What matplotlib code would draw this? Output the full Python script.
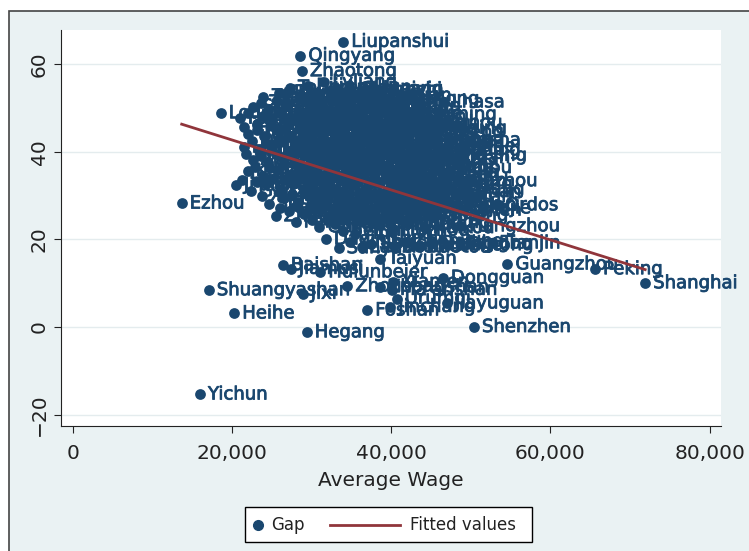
import matplotlib.pyplot as plt
import matplotlib.patheffects as pe
from matplotlib.lines import Line2D
from matplotlib.patches import Rectangle

# city, average wage, gap
city = [
    "Liupanshui", "Qingyang", "Zhaotong", "Lhasa", "Loudi", "Ezhou",
    "Tongren", "Bijie", "Lvliang", "Anshun", "Changzhi", "Lincang",
    "Zhoukou", "Shangluo", "Dazhou", "Bazhong", "Pingliang", "Guyuan", "Wuzhong",
    "Suihua", "Shangqiu", "Zhumadian", "Nanchong", "Guang'an", "Suining", "Qujing",
    "Tangshan", "Baoshan", "Pu'er", "Yulin",
    "Fuxin", "Xinyang", "Fuyang", "Bozhou", "Lu'an", "Guigang", "Yibin", "Ankang",
    "Hanzhong", "Baise", "Laibin", "Hezhou", "Huzhou",
    "Tieling", "Chaoyang", "Siping", "Songyuan", "Baicheng", "Qiqihar", "Ulanqab",
    "Chifeng", "Tongliao", "Xinzhou", "Yancheng", "Linfen", "Yuncheng", "Jinzhong",
    "Huludao", "Jinzhou", "Tonghua", "Liaoyuan", "Qitaihe", "Mudanjiang", "Shuozhou",
    "Datong", "Xingtai", "Handan", "Cangzhou", "Hengshui", "Langfang", "Chengde", "Baoding",
    "Anqing", "Chuzhou", "Huaibei", "Suqian", "Lianyungang", "Huai'an", "Jining", "Heze",
    "Liaocheng", "Dezhou", "Binzhou", "Shaoxing", "Linyi", "Rizhao", "Wuhan",
    "Kaifeng", "Xuchang", "Luohe", "Nanyang", "Pingdingshan", "Anyang", "Hebi", "Xinxiang",
    "Jiaozuo", "Puyang", "Sanmenxia", "Luoyang", "Changzhou", "Wuxi",
    "Ji'an", "Ganzhou", "Shangrao", "Fuzhou", "Yingtan", "Xinyu", "Pingxiang", "Jiujiang",
    "Jingdezhen", "Nanchang", "Huanggang", "Xiaogan", "Jingmen", "Xiangyang", "Yichang", "Jinan",
    "Xianning", "Suizhou", "Huangshi", "Shiyan", "Jingzhou", "Hengyang", "Shaoyang", "Yongzhou",
    "Huaihua", "Yiyang", "Changde", "Yueyang", "Xiangtan", "Weinan", "Ordos",
    "Zhanjiang", "Maoming", "Meizhou", "Shanwei", "Heyuan", "Yangjiang", "Yunfu", "Jieyang",
    "Chaozhou", "Shantou", "Zhaoqing", "Jiangmen",
    "Panzhihua", "Guilin", "Wuzhou", "Beihai", "Yinchuan", "Qinzhou", "Liuzhou", "Nanning",
    "Haikou", "Hangzhou",
    "Daqing", "Sanya", "Xining", "Lanzhou", "Shijiazhuang", "Hohhot", "Zhenjiang", "Baotou",
    "Dalian", "Nantong", "Ningbo", "Tianjin",
    "Bayannur", "Yan'an", "Wuwei", "Baiyin",
    "Zhongwei", "Guangyuan", "Neijiang", "Ziyang", "Meishan", "Leshan", "Ya'an",
    "Luzhou", "Zigong", "Deyang", "Mianyang", "Tongchuan", "Xianyang", "Baoji", "Yuxi",
    "Zhangye", "Jiuquan", "Kunming",
    "Chongzuo", "Fangchenggang", "Qingyuan", "Shaoguan", "Chenzhou", "Zhangjiakou",
    "Qinhuangdao", "Yangquan", "Jincheng", "Wuhai", "Guiyang", "Chongqing", "Xi'an",
    "Dandong", "Fushun", "Benxi", "Yingkou", "Liaoyang", "Panjin", "Anshan", "Jilin",
    "Harbin", "Changchun", "Shenyang", "Zhuzhou", "Changsha",
    "Chizhou", "Xuancheng", "Huangshan", "Tongling", "Huainan", "Bengbu", "Wuhu", "Hefei",
    "Zaozhuang", "Laiwu", "Tai'an", "Weifang", "Zibo", "Dongying",
    "Putian", "Sanming", "Nanping", "Longyan", "Ningde", "Zhangzhou", "Quanzhou", "Lishui",
    "Jinhua", "Quzhou", "Jiaxing", "Taizhou",
    "Huizhou", "Yangzhou", "Wenzhou", "Xuzhou", "Suzhou", "Zhuhai", "Yantai", "Weihai",
    "Qingdao", "Nanjing", "Chengdu", "Shizuishan", "Lijiang",
    "Enshi", "Jishou", "Kaili", "Duyun", "Xingyi", "Dali", "Chuxiong", "Honghe",
    "Wenshan", "Hami", "Korla",
    "Kashgar", "Aksu", "Yili", "Haidong", "Xilinhot", "Shannan", "Nagqu", "Qamdo",
    "Xigaze", "Nyingchi", "Zhangjiajie",
    "Yanbian", "Karamay", "Zunyi", "Wenchang", "Danzhou",
    "Baishan", "Jiamusi", "Hulunbeier", "Taiyuan", "Guangzhou", "Peking", "Shanghai",
    "Shuangyashan", "Jixi", "Zhoushan", "Zhongshan", "Xiamen", "Ma'anshan", "Urumqi",
    "Dongguan", "Jiayuguan", "Foshan", "Jinchang", "Heihe", "Shenzhen", "Hegang", "Yichun",
]
wage = [
    34000, 28600, 28800, 46600, 18600, 13700,
    27300, 29600, 31600, 33100, 34850, 36700,
    23900, 25900, 28400, 30600, 32600, 37800, 39600,
    22700, 24500, 26800, 28300, 30100, 32000, 33800,
    36200, 38000, 39800, 41000,
    21000, 23200, 25100, 27300, 29200, 31000, 32700, 34300,
    36100, 37900, 39600, 41300, 44400,
    22000, 24000, 25900, 27600, 29500, 31300, 33000,
    34800, 36500, 38300, 39000, 40600, 42200, 43600,
    21500, 23500, 25300, 27000, 28800, 30600, 32300,
    34000, 35700, 37500, 39300, 41000, 42700, 44500, 46000,
    22600, 24500, 26300, 28100, 29900, 31700, 33400, 35200,
    36900, 38700, 40400, 41500, 42400, 44200, 46100,
    22000, 23900, 25700, 27500, 29300, 31100, 32800, 34600,
    36300, 38000, 39800, 43000, 44650, 47000,
    20500, 22400, 24300, 26100, 27900, 29700, 31400, 33200,
    35000, 36700, 38400, 40200, 41900, 43700, 45400, 49800,
    23800, 24600, 26500, 28300, 30000, 31800, 33600, 35300,
    37100, 38900, 40600, 42300, 44100, 46400, 53300,
    25500, 27200, 29000, 30800, 32500, 34300, 36000, 37800,
    39500, 41300, 43000, 44800,
    28000, 31000, 33000, 33900, 35400, 38500, 40100, 42000,
    44200, 48780,
    31800, 33400, 34800, 36300, 37500, 40300, 41800, 43500,
    45300, 47200, 48650, 52800,
    26800, 29700, 35800, 38600,
    23600, 25700, 29200, 31200, 34700, 36800, 40300,
    22000, 23900, 26100, 28000, 30000, 32000, 34000, 35600,
    38000, 40000, 42300,
    21500, 23100, 25000, 26700, 28500, 30400,
    32200, 33900, 35600, 37300, 39300, 41300, 43000,
    22500, 24300, 26200, 28000, 29900, 31700, 33400, 35200,
    37000, 38800, 40400, 42100, 44000,
    21800, 23700, 25500, 27400, 29300, 31000, 32700, 34500,
    36300, 38100, 39900, 41700, 43400, 45200,
    22900, 24800, 26600, 28500, 30300, 32100, 33900, 35700,
    37500, 39300, 43700, 45700,
    21300, 23200, 25100, 27000, 28800, 30500, 32300, 34100,
    35900, 37700, 39500, 41300, 42900,
    27500, 29000, 31000, 32700, 34400, 36200, 38000, 39700,
    41400, 43200, 45000,
    26000, 28000, 29900, 31600, 33400, 35200, 37000, 38700,
    40500, 42200, 44000,
    30000, 32000, 34000, 36200, 37800,
    26400, 27400, 31100, 38600, 54600, 65600, 71900,
    17100, 28900, 34500, 38600, 40200, 40100, 40700,
    46500, 47000, 37000, 39900, 20300, 50400, 29400, 16000,
]
gap = [
    65.1, 61.9, 58.4, 51.3, 48.8, 28.2,
    54.6, 55.0, 55.9, 54.6, 54.1, 54.3,
    52.6, 53.4, 52.4, 53.0, 52.2, 52.8, 52.0,
    50.3, 49.5, 50.8, 49.2, 50.6, 49.4, 50.9,
    49.6, 50.4, 49.0, 50.2,
    47.6, 46.4, 47.8, 46.9, 47.7, 46.3, 47.9, 46.6,
    47.4, 46.1, 47.2, 46.4, 46.6,
    44.1, 43.5, 44.8, 43.2, 44.6, 43.7, 45.0,
    43.4, 44.7, 43.3, 45.0, 43.8, 44.4, 42.9,
    41.0, 40.4, 41.7, 40.2, 41.9, 40.6, 41.5,
    40.1, 41.8, 40.7, 40.2, 41.7, 40.4, 41.2, 40.3,
    38.2, 37.5, 38.9, 37.1, 38.6, 37.4, 39.0, 37.6,
    38.8, 37.2, 38.5, 36.3, 37.9, 37.4, 38.6,
    35.6, 34.4, 35.9, 34.2, 35.7, 34.6, 36.0, 34.3,
    35.5, 34.0, 35.2, 34.5, 33.3, 35.2,
    32.4, 31.0, 32.6, 31.3, 32.9, 31.6, 33.0, 31.2,
    32.7, 31.5, 32.8, 31.1, 32.5, 31.4, 32.6, 30.8,
    30.0, 28.1, 29.4, 28.6, 29.8, 28.2, 29.6, 28.4,
    29.9, 28.7, 29.5, 28.3, 29.7, 27.7, 27.8,
    25.3, 26.4, 25.8, 26.9, 25.5, 26.7, 25.2, 26.5,
    25.9, 26.8, 25.4, 26.6,
    23.9, 22.8, 23.6, 22.0, 21.3, 23.3, 22.0, 23.8,
    22.6, 23.0,
    20.0, 18.0, 19.3, 18.2, 19.0, 18.4, 19.5, 18.2,
    19.1, 18.7, 19.1, 19.1,
    53.5, 52.9, 53.0, 54.2,
    51.2, 51.5, 51.6, 51.0, 51.8, 51.4, 51.3,
    48.8, 48.2, 48.9, 48.0, 48.6, 48.1, 48.8, 48.3,
    48.7, 48.0, 48.5,
    45.6, 45.0, 45.9, 45.3, 45.8, 45.2,
    46.0, 45.5, 46.0, 45.4, 45.9, 45.3, 45.9,
    42.5, 42.0, 42.8, 42.2, 42.9, 42.3, 42.7, 42.1,
    42.6, 42.0, 42.7, 42.2, 42.6,
    39.4, 39.0, 39.6, 39.2, 39.8, 39.1, 39.7, 39.3,
    39.9, 39.2, 39.8, 39.3, 39.7, 39.1,
    36.6, 36.2, 36.9, 36.3, 36.8, 36.4, 37.0, 36.5,
    36.9, 36.2, 36.7, 36.3,
    33.6, 33.2, 33.9, 33.4, 34.0, 33.3, 33.8, 33.5,
    34.0, 33.2, 33.8, 33.3, 33.9,
    30.4, 30.9, 30.3, 30.8, 30.2, 30.7, 30.4, 30.9,
    30.2, 30.6, 30.3,
    27.2, 27.6, 27.0, 27.6, 27.1, 27.5, 27.0, 27.6,
    27.2, 27.5, 27.1,
    24.4, 24.7, 24.5, 24.1, 24.6,
    14.1, 13.3, 12.5, 15.6, 14.3, 13.2, 10.0,
    8.4, 7.6, 9.3, 9.1, 10.3, 8.5, 6.5,
    11.2, 5.4, 3.8, 4.6, 3.1, 0.0, -1.2, -15.4,
]

# fitted values (ends of the regression line)
fit_wage = [13700, 71900]
fit_gap = [46.3, 13.1]

navy = '#1a476f'
maroon = '#90353b'
W, H = 749, 551

fig = plt.figure(figsize=(7.49, 5.51), dpi=100, facecolor='white')
fig.add_artist(Rectangle((9 / W, -0.01), 1.0, (H - 11) / H + 0.01,
                         transform=fig.transFigure, facecolor='#eaf2f3',
                         edgecolor='#444444', linewidth=1.2, zorder=-5))

ax = fig.add_axes([61 / W, 125 / H, 660 / W, 396 / H], zorder=1)
ax.set_facecolor('white')

ax.scatter(wage, gap, s=60, color=navy, linewidths=0, zorder=3)
thick = [pe.withStroke(linewidth=0.6, foreground=navy)]
for name, w, g in zip(city, wage, gap):
    ax.annotate(name, (w, g), xytext=(8, 0), textcoords='offset pixels',
                ha='left', va='center', fontsize=13, color=navy, zorder=3,
                annotation_clip=False, path_effects=thick)
ax.plot(fit_wage, fit_gap, color=maroon, linewidth=2, zorder=4)

ax.set_xlim(-1457, 81420)
ax.set_ylim(-22.6, 67.8)
ax.set_xticks([0, 20000, 40000, 60000, 80000])
ax.set_xticklabels(['0', '20,000', '40,000', '60,000', '80,000'])
ax.set_yticks([-20, 0, 20, 40, 60])
ax.set_yticklabels(['\u221220', '0', '20', '40', '60'], rotation=90, va='center')
ax.tick_params(axis='both', labelsize=14.5, length=5, width=0.8, colors='#222222')
ax.tick_params(axis='x', pad=8)
ax.tick_params(axis='y', pad=4)
ax.yaxis.grid(True, color='#e4ecee', linewidth=1)
ax.set_axisbelow(True)
for side in ['top', 'right']:
    ax.spines[side].set_visible(False)
for side in ['left', 'bottom']:
    ax.spines[side].set_color('#222222')
    ax.spines[side].set_linewidth(0.8)

ax.set_xlabel('Average Wage', fontsize=14.5, color='#222222', labelpad=6)

# legend box, drawn by hand so the marker sits close to its text
def fx(px):
    return px / W

def fy(py):
    return 1 - py / H

fig.add_artist(Rectangle((fx(245), fy(542)), 287 / W, 35 / H, transform=fig.transFigure,
                         facecolor='white', edgecolor='black', linewidth=1, zorder=5))
fig.add_artist(Line2D([fx(258)], [fy(524.5)], marker='o', markersize=7, color=navy,
                      linestyle='none', transform=fig.transFigure, zorder=6))
fig.text(fx(271), fy(524.5), 'Gap', fontsize=12, color='#222222', va='center', zorder=6)
fig.add_artist(Line2D([fx(330), fx(400)], [fy(524.5), fy(524.5)], color=maroon,
                      linewidth=2, transform=fig.transFigure, zorder=6))
fig.text(fx(410), fy(524.5), 'Fitted values', fontsize=12, color='#222222', va='center',
         zorder=6)

fig.savefig('out.png', dpi=100, facecolor=fig.get_facecolor())
